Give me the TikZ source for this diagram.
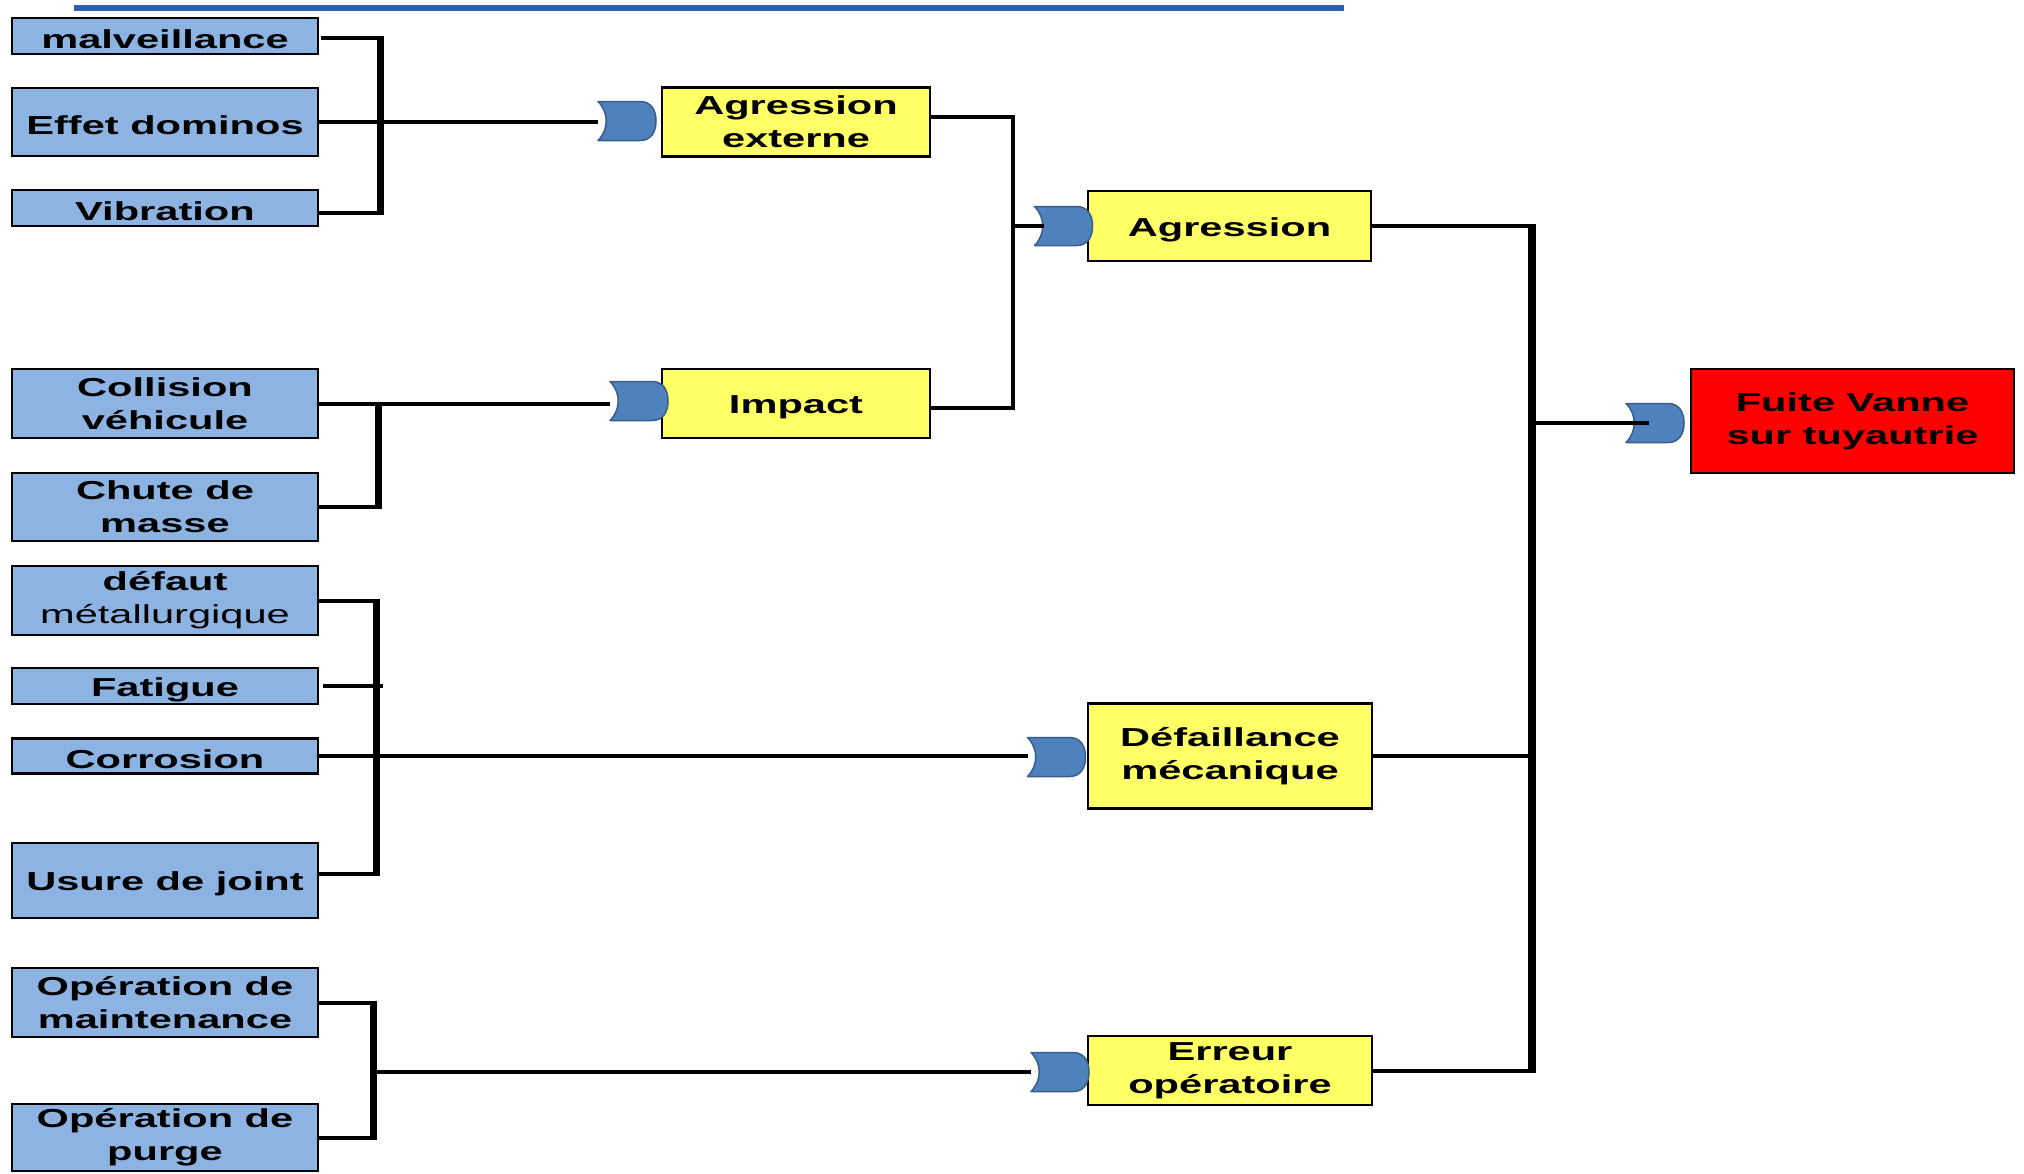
\documentclass[tikz,border=0pt]{standalone}
\usepackage{fontspec}
\setmainfont{Liberation Sans}[FakeStretch=1.6]
\usetikzlibrary{calc}
\definecolor{boxblue}{HTML}{8DB3E2}
\definecolor{boxyellow}{HTML}{FFFF66}
\definecolor{gatefill}{HTML}{4F81BD}
\definecolor{gateline}{HTML}{385D8A}
\definecolor{topline}{HTML}{2F5FAF}
\definecolor{boxred}{HTML}{FF0000}
\tikzset{
  box/.style={draw=black, line width=2.5pt, inner sep=0pt, outer sep=0pt, align=center,
    font=\bfseries\fontsize{26}{33}\selectfont,
    execute at begin node={\rule{0pt}{26pt}}},
  cause/.style={box, fill=boxblue, minimum width=306pt},
  event/.style={box, fill=boxyellow},
  topevent/.style={box, fill=boxred},
  conn/.style={line width=4pt, black},
  bar/.style={line width=7pt, black, shorten <=-2pt, shorten >=-2pt},
  gatenode/.style={minimum width=58pt, minimum height=39pt, inner sep=0pt, outer sep=0pt},
  gateshape/.style={fill=gatefill, draw=gateline, line width=1.5pt, line join=round},
}
\newcommand{\orgate}[2]{%
  \node[gatenode] (#1) at (#2) {};
  \filldraw[gateshape] (#1.north west) -- ++(42,0)
    .. controls +(11,0) and +(0,-11) .. ++(16,19.5)
    .. controls +(0,11) and +(11,0) .. ++(-16,19.5)
    -- ++(-42,0)
    .. controls +(11,-11) and +(11,11) .. ++(0,-39) -- cycle;}
\begin{document}
\begin{tikzpicture}[x=1pt,y=-1pt]
\fill[white] (0,0) rectangle (2024,1173);
\useasboundingbox (0,0) rectangle (2024,1173);
\draw[line width=6pt, topline] (74,8) -- (1344,8);

% causes
\node[cause, minimum height=36pt] (m1) at (165,36) {malveillance};
\node[cause, minimum height=68pt] (m2) at (165,122) {Effet dominos};
\node[cause, minimum height=36pt] (m3) at (165,208) {Vibration};
\node[cause, minimum height=69pt] (c1) at (165,403.5) {Collision\\véhicule};
\node[cause, minimum height=68pt] (c2) at (165,507) {Chute de\\masse};
\node[cause, minimum height=69pt] (d1) at (165,600.5) {défaut\\{\mdseries métallurgique}};
\node[cause, minimum height=36pt] (fa) at (165,686) {Fatigue};
\node[cause, minimum height=35pt] (co) at (165,756) {Corrosion};
\node[cause, minimum height=75pt] (us) at (165,880.5) {Usure de joint};
\node[cause, minimum height=69pt] (mt) at (165,1002.5) {Opération de\\maintenance};
\node[cause, minimum height=67pt] (pg) at (165,1137.5) {Opération de\\purge};

% intermediate events
\node[event, minimum width=268pt, minimum height=69pt] (ae) at (796,122) {Agression\\externe};
\node[event, minimum width=268pt, minimum height=69pt] (im) at (796,403.5) {Impact};
\node[event, minimum width=283pt, minimum height=70pt] (ag) at (1229.5,226) {Agression};
\node[event, minimum width=284pt, minimum height=105pt] (dm) at (1230,756) {Défaillance\\mécanique};
\node[event, minimum width=284pt, minimum height=69pt] (eo) at (1230,1070.5) {Erreur\\opératoire};
\node[topevent, minimum width=323pt, minimum height=104pt] (fv) at (1852.5,421) {Fuite Vanne\\sur tuyautrie};

% gates
\orgate{g1}{627,121}
\orgate{g2}{639,401}
\orgate{g3}{1063.5,226}
\orgate{g4}{1056.5,757}
\orgate{g5}{1060,1072}
\orgate{g6}{1655,423}

% group 1
\coordinate (b1) at (380,0);
\coordinate (m3o) at ($(m3.east)+(0,5)$);
\draw[conn] ($(m1.east)+(3,2)$) -- ($(m1.east -| b1)+(0,2)$);
\draw[conn] (m2.east) -- (m2.east -| g1.west);
\draw[conn] (m3o) -- (m3o -| b1);
\draw[bar] ($(m1.east -| b1)+(0,2)$) -- (m3o -| b1);

% group 2
\coordinate (b2) at (378,0);
\draw[conn] (c1.east) -- (c1.east -| g2.west);
\draw[conn] (c2.east) -- (c2.east -| b2);
\draw[bar] (c1.east -| b2) -- (c2.east -| b2);

% group 3
\coordinate (b3) at (376,0);
\draw[conn] (d1.east) -- (d1.east -| b3);
\draw[conn] ($(fa.east)+(5,0)$) -- ($(fa.east -| b3)+(7,0)$);
\draw[conn] (co.east) -- (co.east -| g4.west);
\draw[conn] ($(us.east)+(0,-7)$) -- ($(us.east -| b3)+(0,-7)$);
\draw[bar] (d1.east -| b3) -- ($(us.east -| b3)+(0,-7)$);

% group 4
\coordinate (b4) at (373,0);
\draw[conn] (mt.east) -- (mt.east -| b4);
\draw[conn] (pg.east) -- (pg.east -| b4);
\draw[bar] (mt.east -| b4) -- (pg.east -| b4);
\draw[conn] (g5.west -| b4) -- (g5.west);

% middle
\coordinate (b5) at (1013,0);
\draw[conn] ($(ae.east)+(0,-5)$) -- ($(ae.east -| b5)+(0,-5)$);
\draw[conn] ($(im.east)+(0,4)$) -- ($(im.east -| b5)+(0,4)$);
\draw[bar, line width=4.5pt] ($(ae.east -| b5)+(0,-5)$) -- ($(im.east -| b5)+(0,4)$);
\draw[conn] (g3.west -| b5) -- ($(g3.west)+(9,0)$);

% right
\coordinate (b6) at (1532,0);
\draw[conn] (ag.east) -- (ag.east -| b6);
\draw[conn] (dm.east) -- (dm.east -| b6);
\draw[conn] (eo.east) -- (eo.east -| b6);
\draw[bar, line width=8pt] (ag.east -| b6) -- (eo.east -| b6);
\draw[conn] (g6.west -| b6) -- ($(g6.center)+(-6,0)$);
\end{tikzpicture}
\end{document}
